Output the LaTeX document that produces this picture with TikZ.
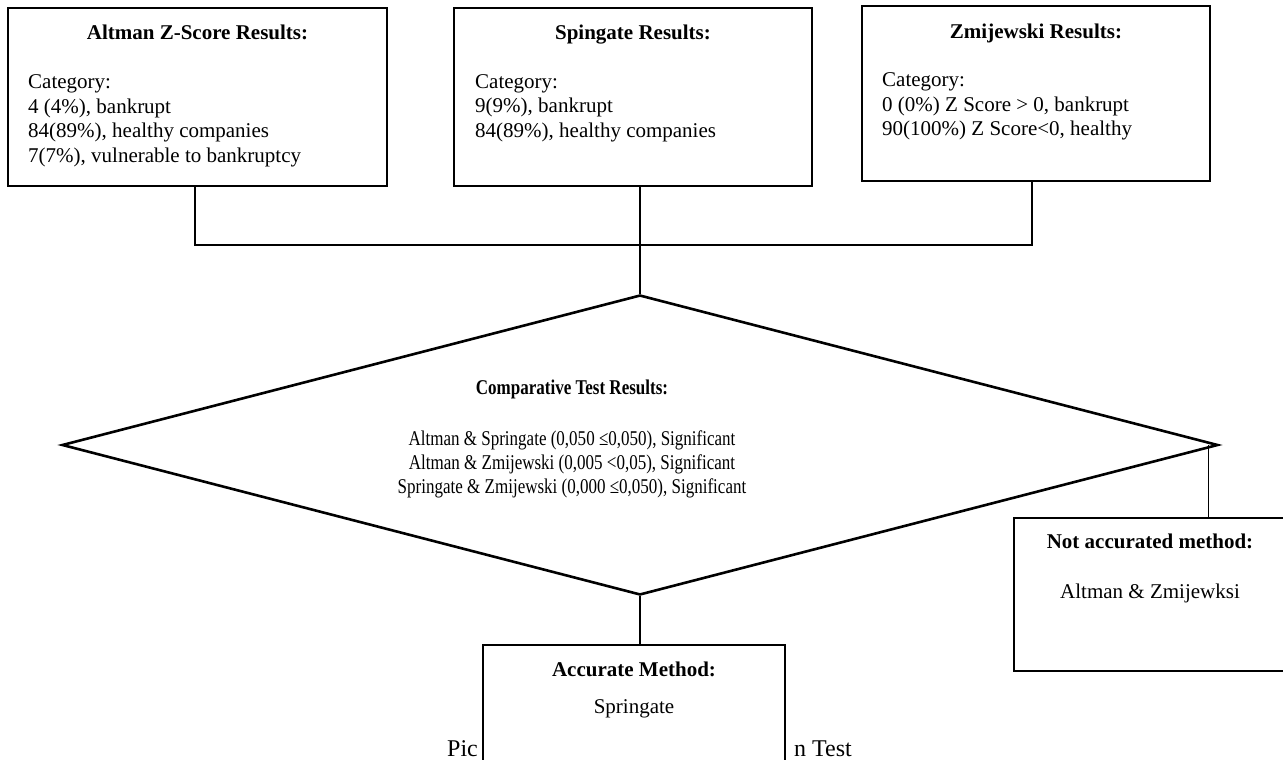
\documentclass[tikz,border=0pt]{standalone}
\usepackage{fontspec}
\setmainfont{Liberation Serif}
\newfontfamily\narrowfont[FakeStretch=0.81]{Liberation Serif}
\usetikzlibrary{shapes.geometric}
\begin{document}
\begin{tikzpicture}[x=1pt,y=-1pt,
  boxframe/.style={draw, line width=2.8pt, inner sep=0pt},
  conn/.style={line width=1.2pt},
  ttl/.style={font=\bfseries\fontsize{21}{24.5}\selectfont, anchor=base, inner sep=0pt},
  txt/.style={font=\fontsize{21}{24.5}\selectfont, anchor=base, inner sep=0pt},
  body/.style={font=\fontsize{21}{24.5}\selectfont, align=left, anchor=north west, inner sep=0pt},
  ntitle/.style={font=\narrowfont\bfseries\fontsize{21}{24}\selectfont, anchor=base, inner sep=0pt},
  nbody/.style={font=\narrowfont\fontsize{21}{24}\selectfont, align=center, anchor=north, inner sep=0pt},
  capt/.style={font=\fontsize{24}{28}\selectfont, inner sep=0pt}]
\useasboundingbox (0,0) rectangle (1283,760);
\clip (0,0) rectangle (1283,760);

% top boxes
\node[boxframe, minimum width=379pt, minimum height=178pt] (alt) at (197.5,97) {};
\node[ttl] (altT) at (197.5,40) {Altman Z-Score Results:};
\node[body] (altB) at (28,74.5) {Category:\\4 (4\%), bankrupt\\84(89\%), healthy companies\\7(7\%), vulnerable to bankruptcy};

\node[boxframe, minimum width=358pt, minimum height=178pt] (spg) at (633,97) {};
\node[ttl] (spgT) at (633,40) {Spingate Results:};
\node[body] (spgB) at (475,74) {Category:\\9(9\%), bankrupt\\84(89\%), healthy companies};

\node[boxframe, minimum width=348pt, minimum height=175pt] (zmi) at (1036,93.5) {};
\node[ttl] (zmiT) at (1036,38.5) {Zmijewski Results:};
\node[body] (zmiB) at (882,72.5) {Category:\\0 (0\%) Z Score > 0, bankrupt\\90(100\%) Z Score<0, healthy};

% diamond
\node[diamond, draw, line width=2.6pt, minimum width=1156pt, minimum height=300pt, inner sep=0pt] (dia) at (640,445) {};
\node[ntitle] (cmpT) at (572,394) {Comparative Test Results:};
\node[nbody] (cmpB) at (572,430.5) {Altman \& Springate (0,050 ≤0,050), Significant\\Altman \& Zmijewski (0,005 <0,05), Significant\\Springate \& Zmijewski (0,000 ≤0,050), Significant};

% caption (partly hidden)
\node[capt, anchor=base west] (capL) at (447,756) {Pic};
\node[capt, anchor=base east] (capR) at (852,756) {n Test};

% bottom boxes
\node[boxframe, fill=white, minimum width=302pt, minimum height=130pt] (acc) at (634,710) {};
\node[ttl] (accT) at (634,676) {Accurate Method:};
\node[txt] (accB) at (634,713) {Springate};

\node[boxframe, minimum width=281pt, minimum height=153pt] (nacc) at (1154.5,594.5) {};
\node[ttl] (naccT) at (1150,548) {Not accurated method:};
\node[txt] (naccB) at (1150,598) {Altman \& Zmijewksi};

% connectors
\coordinate (bus) at (195,245);
\draw[conn] ([xshift=-2.5pt]alt.south) -- ([xshift=-2.5pt]alt.south |- bus) -| ([xshift=-4pt]zmi.south);
\draw[conn] (dia.north |- spg.south) -- (dia.north);
\draw[conn] (dia.south) -- (dia.south |- acc.north);
\coordinate (tap) at ([xshift=-11pt]dia.east);
\draw[conn] (tap) -- (tap |- nacc.north);
\end{tikzpicture}
\end{document}
